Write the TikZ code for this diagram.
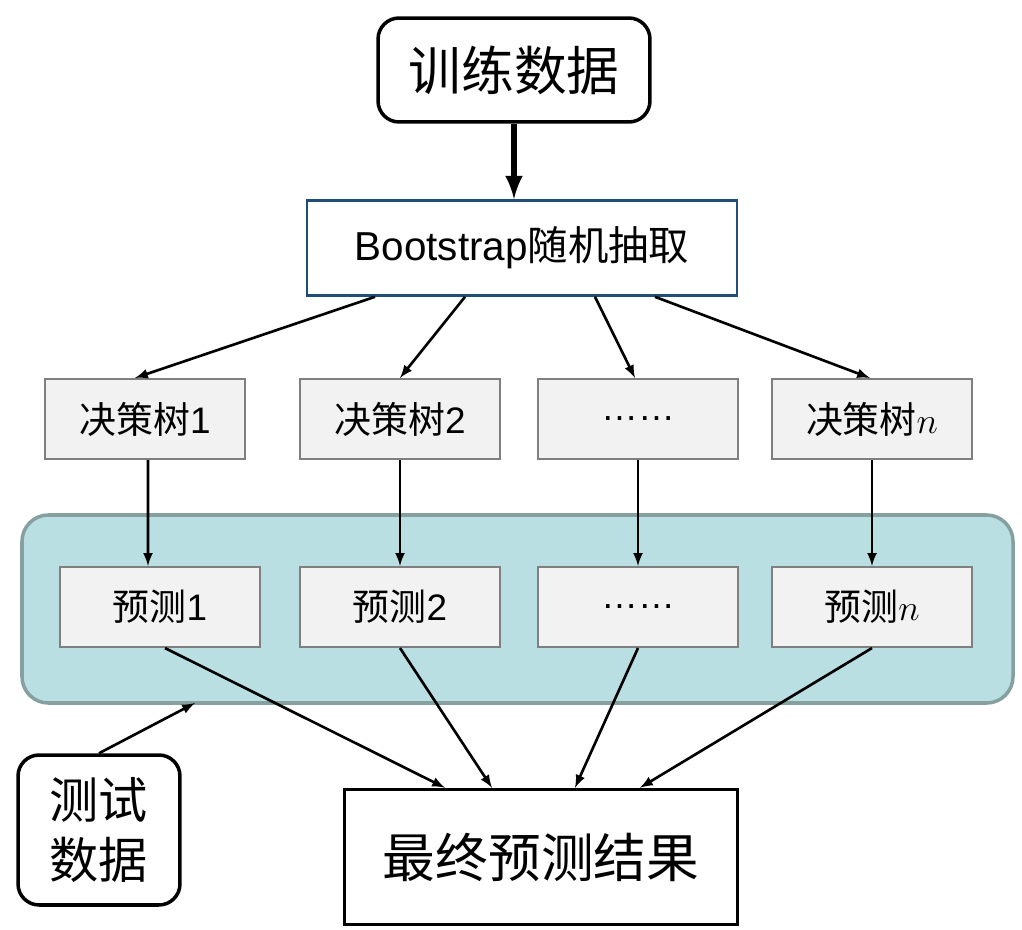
\documentclass[tikz,border=0pt]{standalone}
\usepackage{fontspec}
\setmainfont{Liberation Sans}
\newfontfamily\cjk{Noto Sans CJK SC}
\usetikzlibrary{positioning}
\definecolor{panelfill}{HTML}{B9DFE3}
\definecolor{panelline}{HTML}{86A0A0}
\definecolor{boxfill}{HTML}{F2F2F2}
\definecolor{boxline}{HTML}{7F7F7F}
\definecolor{bootline}{HTML}{1F4E79}
\begin{document}
\begin{tikzpicture}[x=0.02cm, y=-0.02cm, >=latex,
  big/.style = {draw, line width=2pt, rounded corners=12pt, font=\fontsize{30}{36}\selectfont\cjk},
  tree/.style = {draw=boxline, fill=boxfill, line width=1.2pt, minimum width=4cm, minimum height=1.6cm, font=\fontsize{21}{25}\selectfont},
  arr/.style = {->, line width=1.5pt}]
\useasboundingbox (0,0) rectangle (1022,930);
\fill[panelfill, draw=panelline, line width=2pt, rounded corners=15pt] (22,515) rectangle (1013,703);
\node[big, minimum width=5.44cm, minimum height=2.08cm] (train) at (514,70) {训练数据};
\node[draw=bootline, line width=1.5pt, minimum width=8.6cm, minimum height=1.9cm, font=\fontsize{23}{27}\selectfont] (boot) at (522,248) {Bootstrap{\cjk 随机抽取}};
\node[tree] (t1) at (145,419) {{\cjk 决策树}1};
\node[tree] (t2) at (400,419) {{\cjk 决策树}2};
\node[tree] (t3) at (638,419) {……};
\node[tree] (t4) at (872,419) {{\cjk 决策树}$n$};
\node[tree] (p1) at (160,607) {{\cjk 预测}1};
\node[tree] (p2) at (400,607) {{\cjk 预测}2};
\node[tree] (p3) at (638,607) {……};
\node[tree] (p4) at (872,607) {{\cjk 预测}$n$};
\node[big, minimum width=3.24cm, minimum height=3cm, align=center, font=\fontsize{28}{34}\selectfont\cjk] (test) at (99,830) {测试\\数据};
\node[draw, line width=2pt, minimum width=7.86cm, minimum height=2.7cm, font=\fontsize{30}{36}\selectfont\cjk] (final) at (541,857) {最终预测结果};
\coordinate (panel) at (195,703);
\draw[->, line width=3.5pt] (train.south) -- (train.south |- boot.north);
\draw[arr] ([xshift=-2.94cm]boot.south) -- ([xshift=-0.2cm]t1.north);
\draw[arr] ([xshift=-1.14cm]boot.south) -- (t2.north);
\draw[arr] ([xshift=1.46cm]boot.south) -- ([xshift=-0.06cm]t3.north);
\draw[arr] ([xshift=2.66cm]boot.south) -- ([xshift=-0.04cm]t4.north);
\draw[arr] ([xshift=0.06cm]t1.south) -- ([xshift=-0.24cm]p1.north);
\draw[arr] (t2) -- (p2);
\draw[arr] (t3) -- (p3);
\draw[arr] (t4) -- (p4);
\draw[arr] ([xshift=0.1cm]p1.south) -- ([xshift=-1.92cm]final.north);
\draw[arr] (p2.south) -- ([xshift=-0.98cm]final.north);
\draw[arr] (p3.south) -- ([xshift=0.68cm]final.north);
\draw[arr] (p4.south) -- ([xshift=1.98cm]final.north);
\draw[arr] (test.north) -- (panel);
\end{tikzpicture}
\end{document}
